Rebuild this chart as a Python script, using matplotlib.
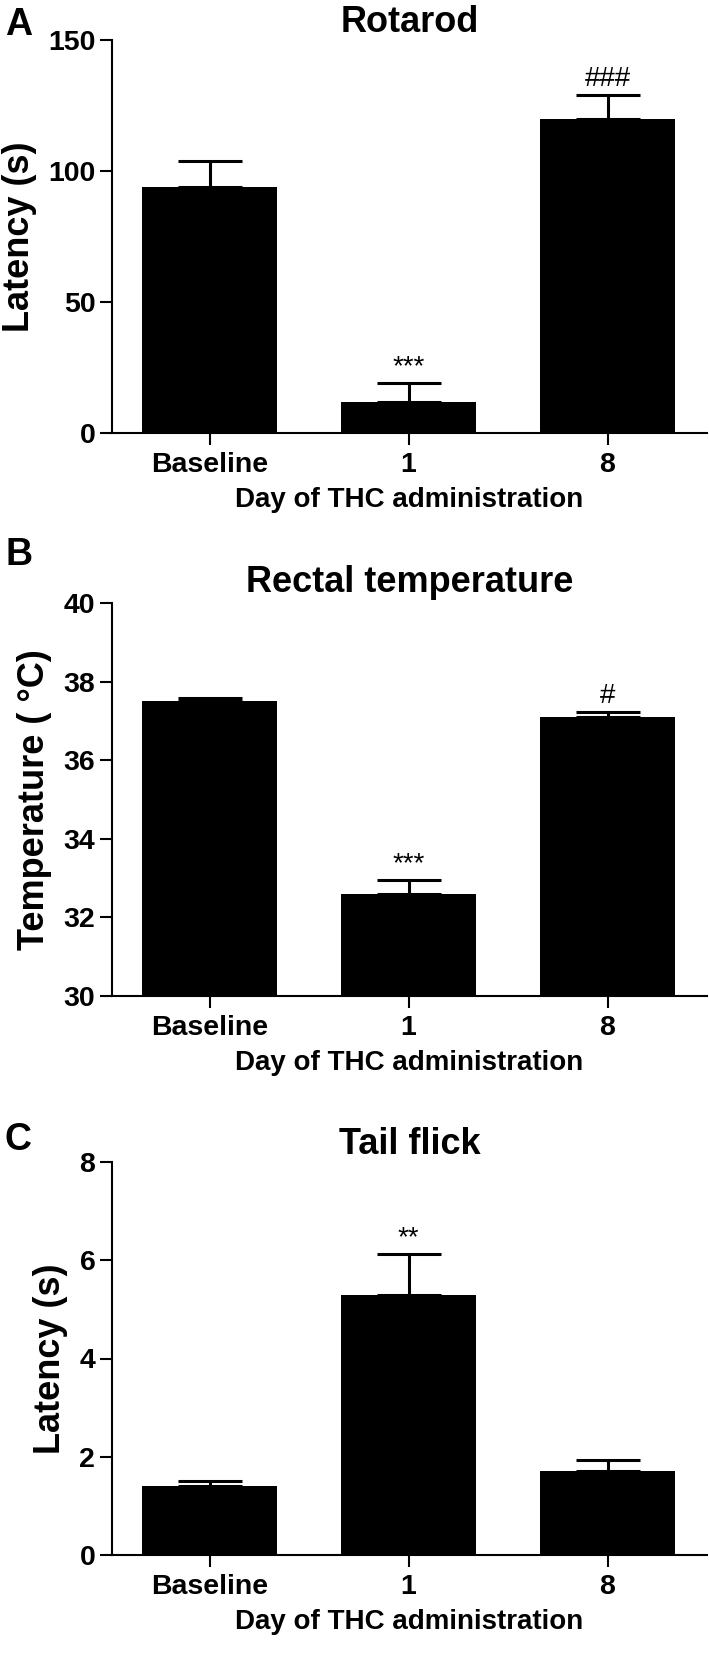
import matplotlib.pyplot as plt
import numpy as np

plt.rcParams['font.family'] = ['Liberation Sans', 'DejaVu Sans']

groups = ["Baseline", "1", "8"]

rotarod = [94, 12, 120]
rotarod_err = [10, 7, 9]
rotarod_sig = ["", "***", "###"]

temp = [37.5, 32.6, 37.1]
temp_err = [0.07, 0.35, 0.12]
temp_sig = ["", "***", "#"]

tail = [1.4, 5.3, 1.72]
tail_err = [0.1, 0.83, 0.22]
tail_sig = ["", "**", ""]

H = 1653.0
fig = plt.figure(figsize=(7.09, 16.53), dpi=100)

# (letter, title, ylabel, values, err, sig, ylim, yticks, axes top px, title pad, letter baseline px)
panels = [
    ("A", "Rotarod", "Latency (s)", rotarod, rotarod_err, rotarod_sig,
     (0, 150), [0, 50, 100, 150], 40, 4, 35),
    ("B", "Rectal temperature", "Temperature ( °C)", temp, temp_err, temp_sig,
     (30, 40), [30, 32, 34, 36, 38, 40], 603, 8, 565),
    ("C", "Tail flick", "Latency (s)", tail, tail_err, tail_sig,
     (0, 8), [0, 2, 4, 6, 8], 1162, 6, 1150),
]

x = np.arange(len(groups))
for letter, title, ylab, vals, err, sig, ylim, yticks, top, tpad, lbase in panels:
    ax = fig.add_axes([112 / 709, 1 - (top + 393) / H, (707 - 112) / 709, 393 / H])
    ax.bar(x, np.array(vals) - ylim[0], bottom=ylim[0], width=0.68, color="black", zorder=3)
    ax.errorbar(x, vals, yerr=[np.zeros(3), err], fmt="none", ecolor="black",
                elinewidth=2.2, capsize=23, capthick=2.2, zorder=2)
    for xi, v, e, s in zip(x, vals, err, sig):
        if s:
            ax.annotate(s, (xi, v + e), xytext=(0, 2), textcoords="offset points",
                        ha="center", va="bottom", fontsize=20)
    ax.set_xlim(-0.49, 2.50)
    ax.set_ylim(*ylim)
    ax.set_yticks(yticks)
    ax.set_xticks(x)
    ax.set_xticklabels(groups)
    ax.spines["top"].set_visible(False)
    ax.spines["right"].set_visible(False)
    ax.spines["left"].set_linewidth(1.5)
    ax.spines["bottom"].set_linewidth(1.5)
    ax.tick_params(width=1.5, length=8.5, labelsize=20.5)
    ax.tick_params(axis="x", pad=5)
    for lab in ax.get_xticklabels() + ax.get_yticklabels():
        lab.set_fontweight("bold")
    ax.set_ylabel(ylab, fontsize=26, fontweight="bold", labelpad=8)
    ax.set_xlabel("Day of THC administration", fontsize=20, fontweight="bold", labelpad=7)
    ax.set_title(title, fontsize=26, fontweight="bold", pad=tpad)
    fig.text(5 / 709, 1 - lbase / H, letter, fontsize=27, fontweight="bold", va="baseline")

fig.savefig("out.png", dpi=100)
